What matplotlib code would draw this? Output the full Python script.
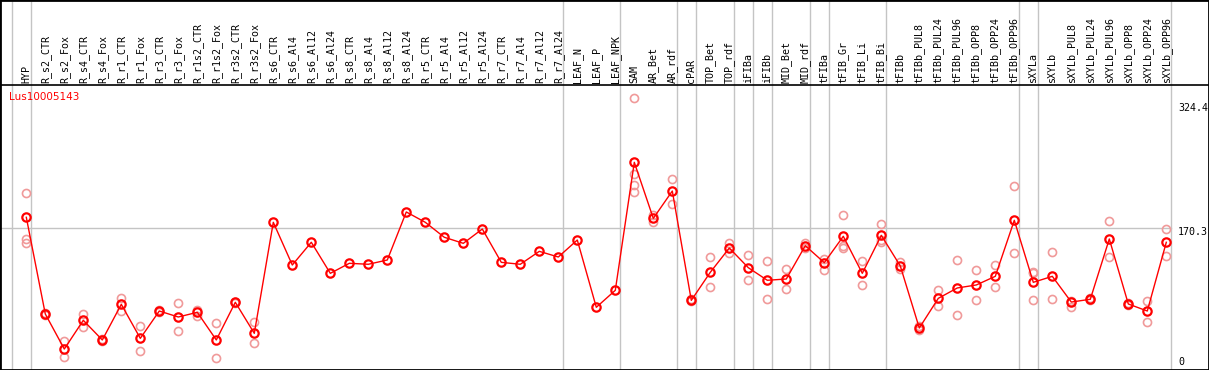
# Expression profile of Lus10005143 across tissues / treatments
import matplotlib.pyplot as plt

gene = "Lus10005143"

samples = ["HYP", "R_s2_CTR", "R_s2_Fox", "R_s4_CTR", "R_s4_Fox", "R_r1_CTR", "R_r1_Fox",
           "R_r3_CTR", "R_r3_Fox", "R_r1s2_CTR", "R_r1s2_Fox", "R_r3s2_CTR", "R_r3s2_Fox",
           "R_s6_CTR", "R_s6_Al4", "R_s6_Al12", "R_s6_Al24", "R_s8_CTR", "R_s8_Al4",
           "R_s8_Al12", "R_s8_Al24", "R_r5_CTR", "R_r5_Al4", "R_r5_Al12", "R_r5_Al24",
           "R_r7_CTR", "R_r7_Al4", "R_r7_Al12", "R_r7_Al24", "LEAF_N", "LEAF_P", "LEAF_NPK",
           "SAM", "AR_Bet", "AR_rdf", "cPAR", "TOP_Bet", "TOP_rdf", "iFIBa", "iFIBb",
           "MID_Bet", "MID_rdf", "tFIBa", "tFIB_Gr", "tFIB_Li", "tFIB_Bi", "tFIBb",
           "tFIBb_PUL8", "tFIBb_PUL24", "tFIBb_PUL96", "tFIBb_OPP8", "tFIBb_OPP24",
           "tFIBb_OPP96", "sXYLa", "sXYLb", "sXYLb_PUL8", "sXYLb_PUL24", "sXYLb_PUL96",
           "sXYLb_OPP8", "sXYLb_OPP24", "sXYLb_OPP96"]

# mean per sample
means = [183.9, 64.3, 21.0, 56.5, 32.2, 76.3, 34.2, 68.0, 60.6, 66.4, 32.2, 78.8, 40.4,
         177.7, 124.9, 153.0, 114.6, 127.0, 125.8, 131.1, 190.5, 177.7, 159.2, 151.7, 169.4,
         128.2, 125.8, 141.8, 134.8, 155.8, 72.6, 93.6,
         251.9, 182.6, 216.4, 81.2, 115.9, 145.9, 121.6, 106.0, 107.6, 148.8, 127.8, 160.4,
         114.6, 161.6, 123.7, 47.0, 83.7, 96.5, 100.2, 110.9, 180.2, 103.5, 110.9, 79.1,
         82.5, 157.1, 76.7, 68.0, 153.0]

# individual replicates (None = only the mean is shown)
reps = [[213.6, 157.0, 151.7], [66.0, 63.0], [30.5, 11.5], [64.3, 48.6], [33.0, 30.5],
        [83.7, 68.0], [49.1, 18.5], [69.5, 67.0], [77.5, 42.9], [69.3, 62.2], [52.8, 9.5],
        [79.5, 78.0], [54.4, 28.0],
        None, None, None, None, None, None, None, None, None, None, None, None,
        None, None, None, None, None, None, None,
        [331.0, 237.1, 223.8, 215.2], [186.7, 178.5], [230.9, 200.3], [82.5, 80.0],
        [134.8, 97.3], [151.7, 139.4], [136.9, 106.0], [129.9, 82.5], [120.0, 94.8],
        [151.7, 145.5], [132.7, 118.3], [186.4, 148.0, 145.5], [129.5, 100.2],
        [175.2, 155.5, 153.7], [128.6, 119.6], [49.5, 44.5], [93.6, 74.6], [130.7, 62.7],
        [118.3, 81.2], [124.9, 97.3], [222.6, 139.4], [116.3, 114.6, 81.2], [140.6, 82.5],
        [80.3, 72.6], [83.5, 81.5], [179.0, 134.4], [78.0, 75.5], [80.0, 54.0],
        [169.0, 136.4]]

# index of last sample in each group -> gray separator
group_ends = [-1, 0, 28, 31, 34, 35, 37, 38, 39, 41, 42, 45, 52, 53, 60]
yticks = [0, 170.3, 324.4]

W, H = 1209, 370
x0, dx = 26.3, 19.0      # pixel of first sample, pixel step
y0, sy = 366.0, 0.8086   # pixel row of value 0, pixels per unit

fig = plt.figure(figsize=(W / 100, H / 100), dpi=100)
ax = fig.add_axes([0, 0, 1, 1])
ax.set_xlim(-x0 / dx, (W - x0) / dx)
ax.set_ylim(-(H - y0) / sy, y0 / sy)
ax.set_xticks([])
ax.set_yticks([])
for s in ax.spines.values():
    s.set_linewidth(2)
    s.set_color("black")

def px_x(p):
    return (p - x0) / dx

def px_y(p):
    return (y0 - p) / sy

mono = "DejaVu Sans Mono"

for g in group_ends:
    ax.axvline(g + 0.23, color="#c4c4c4", lw=1, zorder=1)
ax.plot([ax.get_xlim()[0], 60.23], [yticks[1], yticks[1]], color="#c4c4c4", lw=1, zorder=1)
ax.axhline(px_y(85), color="black", lw=1.2, zorder=2)

for i, r in enumerate(reps):
    if r:
        ax.plot([i] * len(r), r, "o", ms=5.8, mfc="none", mec="#f09a9a", mew=1.2, zorder=3)

xs = list(range(len(samples)))
ax.plot(xs, means, color="red", lw=1, zorder=4)
ax.plot(xs, means, "o", ms=6, mfc="none", mec="red", mew=1.6, zorder=5)

for i, name in enumerate(samples):
    ax.text(i, px_y(83), name, rotation=90, ha="center", va="bottom",
            fontsize=7.2, family=mono, zorder=6)

ax.text(px_x(9), px_y(97), gene, color="red", ha="left", va="center", fontsize=7.5)

for v in yticks:
    ax.text(px_x(1178), max(v - 5, px_y(361.7)), str(v if v else 0), ha="left",
            va="center", fontsize=7.2, family=mono)

fig.savefig("out.png", dpi=100)
